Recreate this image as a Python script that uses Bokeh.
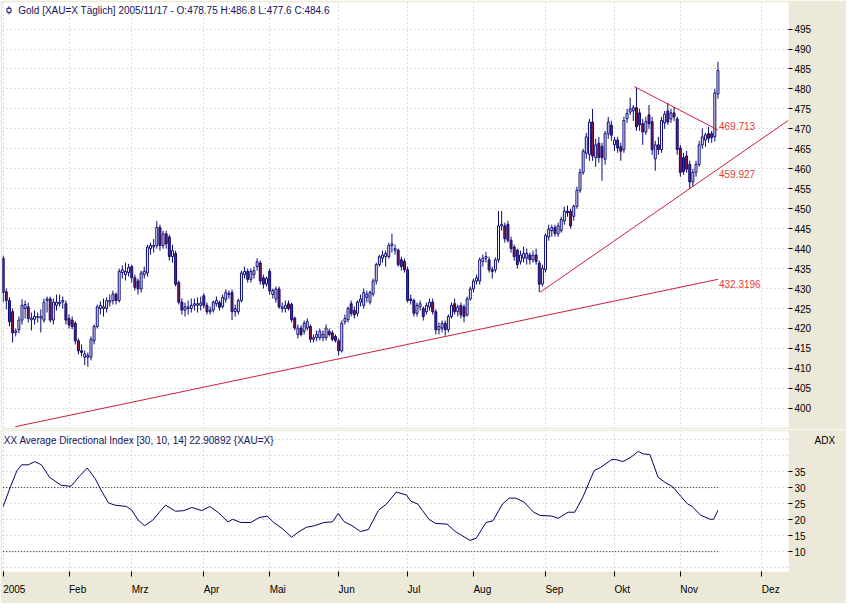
from bokeh.plotting import figure
from bokeh.layouts import column
from bokeh.models import ColumnDataSource, FixedTicker, Label, Range1d, LinearAxis
from bokeh.embed import file_html
from bokeh.resources import INLINE
from bokeh.core.properties import value

# ---------------- data ----------------
# one value per trading day, 2005-01-03 .. 2005-11-17
open_ = [
    437.6, 429.2, 427.0, 424.2, 419.0, 419.7, 422.1, 425.0, 425.4, 422.2, 422.3, 422.8, 422.6, 422.1, 427.0, 427.4, 422.1, 425.8, 426.2, 426.6, 426.2,
    422.5, 422.1, 421.3, 416.9, 414.4, 412.8, 412.8, 412.8, 416.9, 420.5, 425.0, 425.0, 425.0, 426.6, 427.0, 428.6, 427.0, 434.0, 433.5, 434.0,
    435.5, 432.7, 431.9, 429.9, 433.5, 433.9, 440.0, 440.4, 440.8, 445.3, 440.8, 443.7, 442.9, 438.0, 438.8, 431.5, 426.6, 424.6, 425.0, 425.0, 425.8, 425.8, 425.8,
    428.2, 425.8, 424.2, 424.6, 426.2, 426.5, 425.5, 427.3, 428.5, 429.0, 424.2, 424.2, 427.0, 433.5, 434.3, 432.3, 433.5, 435.5, 436.4, 432.7, 431.1,
    434.3, 428.5, 427.4, 429.9, 425.0, 425.0, 426.2, 426.0, 422.6, 418.5, 420.1, 419.3, 420.1, 420.5, 417.3, 417.7, 417.7, 417.7, 417.7, 419.3, 418.9, 418.0,
    416.9, 414.4, 421.7, 422.2, 426.2, 424.5, 423.8, 426.6, 425.8, 427.8, 426.6, 428.6, 431.9, 436.0, 437.6, 438.0, 438.0, 440.8, 439.6, 439.6, 437.2, 436.8,
    434.7, 427.4, 427.0, 423.8, 425.4, 425.0, 424.2, 425.4, 426.6, 424.2, 419.7, 420.1, 421.3, 419.7, 423.0, 426.2, 424.2, 425.8, 425.4, 423.4, 427.4,
    429.9, 431.9, 431.9, 436.8, 437.6, 437.2, 434.7, 434.7, 437.2, 445.7, 445.7, 446.1, 442.1, 440.4, 439.6, 436.8, 437.6, 437.6, 438.4, 437.2, 438.4, 436.4, 431.1,
    434.7, 442.9, 444.5, 445.3, 443.7, 444.5, 446.9, 449.4, 449.4, 448.1, 450.6, 454.6, 459.1, 463.9, 463.6, 471.7, 462.8, 466.4, 465.6, 462.4, 468.8, 470.9,
    466.0, 467.2, 465.5, 464.8, 472.5, 474.2, 474.5, 475.3, 474.0, 471.3, 469.2, 473.5, 471.8, 462.5, 466.0, 464.8, 471.5, 474.5, 472.5, 474.0, 472.5,
    465.2, 462.8, 463.2, 461.1, 456.7, 459.1, 461.1, 466.0, 467.2, 468.8, 468.8, 468.0, 478.75,
]
high = [
    438.2, 430.0, 427.8, 425.0, 420.0, 423.0, 427.3, 427.0, 426.5, 424.0, 424.5, 424.0, 424.8, 427.5, 428.0, 428.0, 427.5, 428.5, 428.5, 428.0, 427.0,
    423.5, 423.0, 421.8, 417.5, 416.0, 414.5, 414.0, 418.0, 421.0, 426.0, 426.8, 427.5, 427.8, 428.5, 429.5, 429.0, 435.0, 435.8, 436.5, 436.2,
    436.0, 433.5, 432.5, 434.5, 435.5, 441.0, 441.5, 442.4, 446.9, 446.0, 444.5, 444.5, 443.5, 441.0, 439.5, 432.0, 427.5, 426.5, 427.0, 427.5, 427.5, 427.8, 428.0,
    428.8, 426.5, 425.5, 427.0, 428.0, 427.0, 428.5, 429.8, 429.5, 429.8, 426.0, 427.5, 434.5, 435.5, 435.0, 435.0, 435.5, 437.6, 437.0, 433.5, 433.0,
    435.0, 430.0, 430.5, 430.5, 426.5, 427.0, 427.0, 426.5, 423.0, 421.0, 420.8, 422.0, 422.5, 421.0, 418.5, 419.5, 420.0, 419.5, 421.0, 420.0, 419.5, 418.5,
    417.5, 422.0, 423.5, 425.5, 427.0, 425.5, 427.0, 428.5, 430.0, 429.5, 429.5, 432.5, 436.5, 438.5, 439.5, 439.5, 441.5, 443.7, 441.0, 440.0, 438.0, 437.5,
    435.5, 428.5, 427.5, 426.5, 427.0, 425.5, 426.5, 427.5, 427.5, 424.8, 421.5, 422.0, 422.0, 423.5, 426.5, 427.5, 426.0, 426.5, 426.0, 428.0, 430.5,
    432.5, 433.5, 437.8, 438.5, 439.2, 438.0, 435.5, 437.8, 449.4, 449.4, 446.5, 447.0, 443.0, 441.0, 440.0, 439.5, 440.5, 440.0, 439.0, 439.5, 440.0, 437.0, 436.0,
    443.8, 446.0, 446.0, 446.0, 446.5, 448.0, 450.5, 450.8, 450.0, 451.0, 455.5, 460.0, 465.0, 469.0, 472.5, 475.0, 467.5, 468.0, 466.5, 469.5, 473.0, 472.0,
    468.0, 468.0, 466.5, 473.0, 475.0, 477.8, 476.0, 480.2, 475.0, 472.5, 473.0, 476.0, 473.0, 467.0, 468.0, 473.0, 474.5, 476.5, 475.0, 475.5, 473.0,
    466.0, 464.0, 464.5, 462.0, 460.0, 462.0, 467.0, 470.1, 469.0, 470.5, 469.5, 480.0, 486.8,
]
low = [
    426.6, 424.8, 420.5, 416.5, 418.0, 418.8, 421.0, 422.5, 421.5, 419.5, 421.0, 421.5, 419.0, 421.5, 424.0, 421.5, 421.0, 424.5, 425.5, 425.0, 421.0,
    420.0, 419.8, 416.0, 413.5, 413.0, 410.8, 410.4, 412.0, 416.0, 420.0, 423.5, 423.0, 424.0, 425.5, 426.0, 426.0, 426.5, 432.5, 432.0, 433.0,
    431.5, 429.5, 428.5, 429.0, 432.5, 433.0, 438.5, 439.0, 440.0, 439.5, 440.0, 440.0, 437.0, 436.5, 430.5, 426.0, 423.5, 423.0, 423.5, 424.0, 424.5, 424.0, 424.5,
    425.0, 423.5, 423.5, 424.0, 425.5, 424.5, 425.0, 426.5, 427.5, 422.1, 423.0, 423.5, 426.5, 432.5, 431.5, 431.5, 432.5, 434.5, 431.0, 430.0, 430.5,
    428.5, 427.5, 426.5, 425.0, 424.0, 424.0, 424.5, 421.5, 419.5, 417.5, 418.0, 418.5, 419.5, 416.5, 416.5, 416.8, 417.0, 416.8, 417.0, 418.0, 416.8, 416.5,
    413.2, 414.0, 421.0, 421.5, 423.0, 422.5, 423.0, 425.5, 425.0, 426.5, 426.0, 428.0, 431.0, 435.5, 436.5, 435.5, 437.5, 439.0, 438.5, 435.5, 434.5, 434.0,
    426.5, 426.0, 423.0, 423.0, 424.5, 422.0, 423.5, 424.5, 423.5, 418.5, 418.5, 419.0, 418.2, 419.0, 422.5, 423.5, 423.0, 422.5, 421.5, 423.0, 427.0,
    429.0, 431.0, 431.0, 435.5, 436.5, 434.0, 432.5, 434.0, 436.5, 444.5, 441.5, 441.5, 439.0, 437.0, 435.0, 436.0, 436.5, 436.0, 436.0, 436.5, 436.0, 429.1, 430.5,
    434.0, 442.0, 443.0, 443.0, 443.0, 444.0, 446.0, 448.0, 445.0, 447.0, 450.0, 454.0, 458.5, 462.5, 462.0, 462.0, 460.5, 461.5, 457.0, 461.0, 467.5, 467.0,
    464.5, 464.0, 462.0, 464.0, 471.5, 473.5, 472.0, 469.5, 469.5, 466.0, 468.5, 470.0, 463.5, 459.5, 463.5, 464.0, 470.0, 471.0, 471.5, 472.0, 463.5,
    458.0, 458.5, 459.0, 455.0, 455.5, 458.0, 460.5, 465.0, 465.5, 466.5, 466.5, 466.8, 477.6,
]
close = [
    429.0, 427.0, 421.7, 418.9, 419.4, 422.1, 425.8, 426.0, 422.5, 422.6, 423.0, 423.0, 423.0, 426.6, 427.4, 422.1, 426.6, 426.6, 426.6, 427.0, 422.1,
    420.9, 420.5, 416.9, 414.4, 414.0, 413.6, 413.2, 417.3, 420.5, 425.4, 425.8, 425.4, 427.0, 427.0, 428.6, 427.0, 434.3, 434.7, 434.3, 435.3,
    432.7, 430.3, 429.9, 433.9, 434.3, 440.4, 440.8, 440.8, 445.3, 440.8, 443.7, 441.2, 438.0, 439.5, 431.1, 426.6, 424.6, 425.4, 425.4, 425.8, 426.2, 426.2, 426.4,
    425.8, 424.2, 424.6, 426.6, 427.0, 425.3, 427.8, 429.0, 428.8, 424.2, 425.0, 427.0, 433.9, 434.3, 432.3, 434.3, 434.5, 436.7, 431.9, 431.1, 432.5,
    429.4, 429.5, 429.9, 425.4, 425.4, 425.8, 425.0, 422.2, 420.1, 420.1, 418.5, 421.3, 421.7, 417.3, 417.7, 418.5, 419.3, 418.5, 420.1, 418.5, 417.3, 417.0,
    414.4, 421.3, 422.5, 425.0, 423.8, 423.4, 426.6, 427.4, 429.0, 428.6, 429.0, 431.9, 436.0, 438.0, 438.4, 438.8, 440.8, 441.2, 440.0, 436.0, 435.5, 434.7,
    427.0, 427.0, 423.8, 425.8, 426.2, 423.0, 425.8, 426.6, 424.2, 419.7, 420.5, 421.3, 419.7, 423.0, 425.8, 424.2, 425.4, 423.4, 423.0, 427.4, 429.9,
    431.9, 432.7, 437.2, 437.6, 438.0, 434.7, 434.3, 437.2, 445.7, 446.1, 442.5, 442.1, 440.0, 438.0, 436.0, 438.4, 438.8, 438.8, 437.2, 438.4, 436.8, 431.1, 435.1,
    443.3, 444.9, 445.3, 443.8, 445.7, 447.3, 449.4, 449.0, 445.7, 450.6, 454.6, 459.1, 464.4, 468.0, 471.7, 463.2, 466.0, 462.8, 462.8, 468.8, 471.7, 468.4,
    467.2, 465.2, 464.4, 472.1, 473.9, 475.0, 475.3, 470.5, 471.0, 469.2, 471.8, 471.3, 464.8, 466.0, 464.8, 472.1, 473.7, 471.7, 474.0, 473.0, 464.8,
    459.1, 459.3, 459.9, 456.7, 459.1, 461.1, 466.0, 468.0, 468.5, 467.6, 467.8, 479.0, 484.6,
]

# ADX (30, 10, 14) line, read at its vertices: trading-day index / value
adx_day = [0, 2.3, 4.4, 5.9, 8, 10.1, 12.2, 14.8, 18.5, 21.6, 24.2, 26.8, 29.4, 31.5, 33.6, 35.7, 39.3, 40.9,
           43, 45.1, 47.7, 49.8, 51.8, 55, 57.6, 60.2, 63.3, 65.9, 68.5, 71.7, 73.2, 75.8, 79, 81.6, 84.2, 86.3,
           89.4, 92, 94.1, 96.7, 99.3, 102.4, 105, 106.9, 108.7, 111.3, 113.9, 116.5, 119.7, 122.3, 125.4, 128.6,
           130.1, 132.2, 133.7, 135.8, 137.9, 141.6, 144.2, 148.9, 150.9, 154, 156.2, 159.3, 161.4, 163.5, 166.1,
           169.2, 171.3, 175, 177, 180.2, 182.3, 184.9, 188.5, 190.6, 194.2, 196.1, 197.6, 200, 202.6, 204.2,
           206.3, 208.9, 211, 213.6, 216.2, 218.3, 219.8, 222.4, 225.5, 226.6, 228]
adx_val = [24.1, 30.2, 35.3, 37.1, 37.1, 38.1, 37.1, 33.2, 30.7, 30.4, 33.4, 36.1, 32.7, 28.7, 25.2, 24.5, 24.1, 23.1,
           19.9, 18.1, 19.8, 22.3, 24.5, 22.6, 22.8, 23.8, 22.8, 24.1, 22.3, 19.3, 20.1, 19.1, 19.1, 20.6, 21.1, 19.1,
           16.9, 14.5, 16.1, 17.6, 18.1, 19.1, 19.3, 21.9, 19.4, 18.1, 16.3, 16.9, 22.9, 24.9, 28.6, 27.7,
           25.7, 24.9, 22.9, 20.1, 18.8, 18.6, 16.3, 13.5, 14.2, 19.1, 19.6, 24.9, 26.7, 26.7, 25.5,
           22.3, 21.3, 21.1, 20.4, 22.3, 22.3, 27.0, 35.3, 36.3, 38.8, 38.6, 38.1, 39.3, 41.3, 40.5,
           40.3, 33.2, 31.7, 30.2, 27.2, 24.9, 24.1, 21.4, 20.1, 20.1, 22.9]
adx_levels = [30, 10]

# trend lines: start (day, price) -> value at last day
trend_start_day = [3.85, 171.3, 201.3]
trend_start_val = [395.4, 429.1, 480.6]
trend_end_val = [432.3196, 459.927, 469.713]
trend_extend = [False, True, False]

month_idx = [0, 21, 41, 64, 85, 107, 129, 150, 173, 195, 216, 242]
month_labels = ["2005", "Feb", "Mrz", "Apr", "Mai", "Jun", "Jul", "Aug", "Sep", "Okt", "Nov", "Dez"]
price_ticks = list(range(400, 500, 5))
adx_ticks = [10, 15, 20, 25, 30, 35]
adx_grid = [5, 10, 15, 20, 25, 30, 35, 40, 45]

title_text = "Gold [XAU=X  Täglich] 2005/11/17 - O:478.75 H:486.8 L:477.6 C:484.6"
adx_title = "XX Average Directional Index [30, 10, 14] 22.90892 {XAU=X}"
adx_name = "ADX"

# ---------------- styling ----------------
FONT = "Liberation Sans"
BG = "#ECE9D8"
NAVY = "#0A0A78"
DOWN = "#8C1C40"
TREND = "#CC1F3F"
TLABEL = "#E23A3A"
GRID = "#BDBDBD"
X0, X1 = -0.22, 250.5
ADX_LABEL_Y = 44.8

n = min(len(open_), len(high), len(low), len(close))
days = list(range(n))
last = days[-1]
src = ColumnDataSource(dict(
    x=days, h=high[:n], l=low[:n],
    top=[max(o, c) for o, c in zip(open_[:n], close[:n])],
    bottom=[min(o, c) for o, c in zip(open_[:n], close[:n])],
    fill=["white" if c >= o else DOWN for o, c in zip(open_[:n], close[:n])],
))


def style_common(p):
    p.border_fill_color = BG
    p.background_fill_color = "white"
    p.outline_line_color = None
    for g in p.grid:
        g.grid_line_color = GRID
        g.grid_line_dash = "1 3"
    ya = p.yaxis[0]
    ya.axis_line_color = None
    ya.major_tick_line_color = "black"
    ya.major_tick_in = 0
    ya.major_tick_out = 4
    ya.minor_tick_line_color = None
    ya.major_label_standoff = 2
    ya.major_label_text_font = FONT
    ya.major_label_text_font_size = "10px"
    ya.major_label_text_color = "black"


main = figure(frame_width=786, frame_height=425, x_range=Range1d(X0, X1), y_range=Range1d(395.2, 501.65),
              output_backend="svg", toolbar_location=None, x_axis_location=None, y_axis_location="right",
              min_border_left=2, min_border_right=58, min_border_top=2, min_border_bottom=2)
style_common(main)
main.yaxis[0].ticker = FixedTicker(ticks=price_ticks)
main.ygrid.ticker = FixedTicker(ticks=price_ticks)
main.xgrid.ticker = FixedTicker(ticks=month_idx)

main.segment(x0="x", y0="l", x1="x", y1="h", source=src, line_color=NAVY, line_width=1)
main.vbar(x="x", width=0.62, top="top", bottom="bottom", fill_color="fill", line_color=NAVY,
          line_width=1, source=src)

# trend lines
tx0, ty0, tx1, ty1 = [], [], [], []
for sd, sv, ev, ext in zip(trend_start_day, trend_start_val, trend_end_val, trend_extend):
    slope = (ev - sv) / (last - sd)
    xe = X1 if ext else last
    tx0.append(sd); ty0.append(sv); tx1.append(xe); ty1.append(ev + slope * (xe - last))
main.segment(x0=tx0, y0=ty0, x1=tx1, y1=ty1, line_color=TREND, line_width=1)

above = [v for v in trend_end_val if v == max(trend_end_val)]
below = [v for v in trend_end_val if v != max(trend_end_val)]
main.text(x=[last] * len(above), y=above, text=[str(v) for v in above], text_baseline="bottom",
          x_offset=1, text_font=value(FONT), text_font_size="10px", text_color=TLABEL)
main.text(x=[last] * len(below), y=below, text=[str(v) for v in below], text_baseline="top",
          x_offset=1, y_offset=1, text_font=value(FONT), text_font_size="10px", text_color=TLABEL)

# header icon + text
main.quad(left=[1.2], right=[2.5], top=[500.2], bottom=[499.2], fill_color="white", line_color=NAVY)
main.segment(x0=[1.85, 1.85], y0=[500.2, 499.2], x1=[1.85, 1.85], y1=[500.7, 498.7], line_color=NAVY)
main.add_layout(Label(x=4.8, y=499.7, text=title_text, text_baseline="middle", text_font=FONT,
                      text_font_size="10px", text_color="#14145A"))

adx = figure(frame_width=786, frame_height=140, x_range=main.x_range, y_range=Range1d(3.8, 47.5),
             output_backend="svg", toolbar_location=None, y_axis_location="right",
             min_border_left=2, min_border_right=58, min_border_top=2, min_border_bottom=27)
style_common(adx)
adx.yaxis[0].ticker = FixedTicker(ticks=adx_ticks)
adx.ygrid.ticker = FixedTicker(ticks=adx_grid)
adx.xgrid.ticker = FixedTicker(ticks=month_idx)

# second right axis that only carries the "ADX" caption
name_axis = LinearAxis(ticker=FixedTicker(ticks=[ADX_LABEL_Y]),
                       major_label_overrides={ADX_LABEL_Y: adx_name})
name_axis.axis_line_color = None
name_axis.major_tick_line_color = None
name_axis.minor_tick_line_color = None
name_axis.major_tick_in = 0
name_axis.major_tick_out = 0
name_axis.major_label_standoff = 6
name_axis.major_label_text_font = FONT
name_axis.major_label_text_font_size = "10px"
name_axis.major_label_text_color = "black"
adx.add_layout(name_axis, "right")

xa = adx.xaxis[0]
xa.ticker = FixedTicker(ticks=month_idx)
xa.major_label_overrides = {t: s for t, s in zip(month_idx, month_labels)}
xa.major_label_orientation = -0.0001
xa.axis_line_color = None
xa.minor_tick_line_color = None
xa.major_tick_line_color = "black"
xa.major_tick_line_dash = "0 4 5 40"
xa.major_tick_in = 0
xa.major_tick_out = 9
xa.major_label_standoff = 9
xa.major_label_text_font = FONT
xa.major_label_text_font_size = "10px"
xa.major_label_text_color = "black"

adx.segment(x0=[0] * len(adx_levels), y0=adx_levels, x1=[last] * len(adx_levels), y1=adx_levels,
            line_color="#202020", line_width=1, line_dash="1 2")
adx.line(adx_day, adx_val, line_color="#000066", line_width=1)
adx.add_layout(Label(x=0.2, y=44.7, text=adx_title, text_baseline="middle", text_font=FONT,
                     text_font_size="10px", text_color="#14145A"))

layout = column(main, adx, spacing=0)
open("out.html", "w").write(file_html(layout, INLINE))
